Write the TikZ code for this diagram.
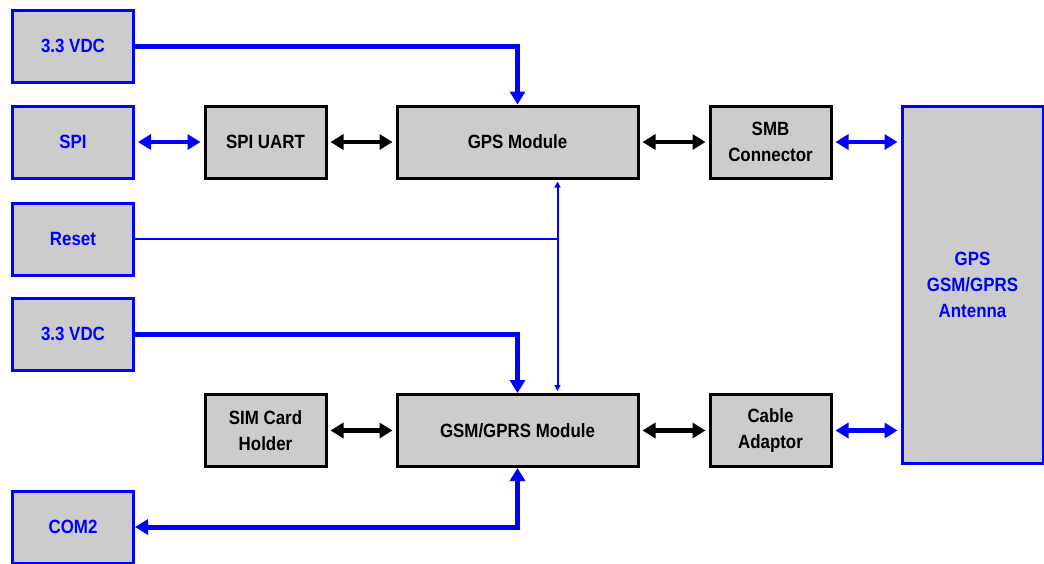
\documentclass[tikz,border=0pt]{standalone}
\usepackage{fontspec}
\setmainfont{Liberation Sans}[FakeStretch=0.88]
\usetikzlibrary{arrows.meta}
\definecolor{boxgray}{HTML}{CCCCCC}

\begin{document}
\begin{tikzpicture}[x=0.5pt, y=-0.5pt,
    every node/.style={font=\fontsize{9.6}{13}\selectfont\bfseries, align=center},
    blk/.style={draw=black, fill=boxgray, line width=1.5pt, inner sep=0pt,
      minimum width=60.5pt, minimum height=36pt},
    ext/.style={blk, draw=blue, text=blue},
    link/.style={{Triangle[length=6.5pt,width=7.5pt]}-{Triangle[length=6.5pt,width=7.5pt]},
      line width=2.2pt, shorten <=1.5pt, shorten >=1.5pt},
    pwr/.style={-{Triangle[length=6.5pt,width=7.5pt]}, blue, line width=2.5pt},
    sig/.style={blue, line width=1pt}]
    \useasboundingbox (0,0) rectangle (1044,563);
    % outside connections
    \node[ext] (vdcA) at (73,46) {3.3 VDC};
    \node[ext] (spi) at (73,142) {SPI};
    \node[ext] (reset) at (73,239) {Reset};
    \node[ext] (vdcB) at (73,334) {3.3 VDC};
    \node[ext] (com2) at (73,527) {COM2};
    % modules
    \node[blk] (uart) at (265.5,142) {SPI UART};
    \node[blk, minimum width=120.5pt] (gps) at (517.5,142) {GPS Module};
    \node[blk] (smb) at (770.5,142) {SMB\\Connector};
    \node[blk] (sim) at (265.5,430.5) {SIM Card\\Holder};
    \node[blk, minimum width=120.5pt] (gsm) at (517.5,430.5) {GSM/GPRS Module};
    \node[blk] (cable) at (770.5,430.5) {Cable\\Adaptor};
    \node[ext, minimum width=70.5pt, minimum height=178.5pt] (ant) at (972.5,284.5) {GPS\\GSM/GPRS\\Antenna};
    % power and com lines
    \draw[pwr] (vdcA.east) -| (gps.north);
    \draw[pwr] (vdcB.east) -| (gsm.north);
    \draw[pwr, {Triangle[length=6.5pt,width=7.5pt]}-{Triangle[length=6.5pt,width=7.5pt]}] (com2.east) -| (gsm.south);
    % data links
    \draw[link, blue] (spi) -- (uart);
    \draw[link] (uart) -- (gps);
    \draw[link] (gps) -- (smb);
    \draw[link, blue] (smb.east) -- (smb.east -| ant.west);
    \draw[link] (sim) -- (gsm);
    \draw[link] (gsm) -- (cable);
    \draw[link, blue] (cable.east) -- (cable.east -| ant.west);
    % reset bus
    \coordinate (bus) at ([xshift=20pt]gps.south);
    \draw[sig, {Triangle[length=3pt,width=3pt]}-{Triangle[length=3pt,width=3pt]}, shorten <=1pt, shorten >=1pt]
      (bus) -- (bus |- gsm.north);
    \draw[sig] (reset.east) -- (reset.east -| bus);
\end{tikzpicture}
\end{document}
